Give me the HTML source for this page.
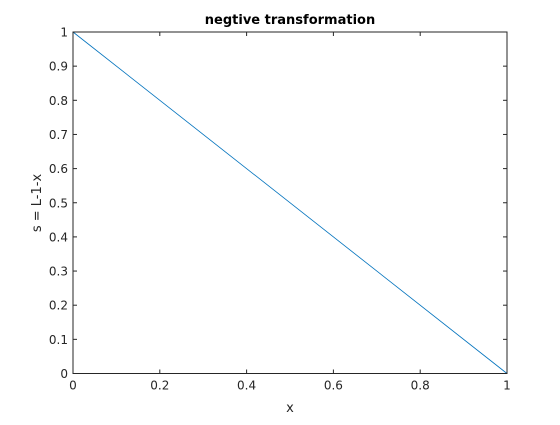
<!DOCTYPE html>
<html><head><meta charset="utf-8"><style>
body{margin:0;background:#fff}
text{font-family:"DejaVu Sans","Liberation Sans",sans-serif;fill:#262626}
</style></head><body>
<svg id="chart" width="560" height="420" xmlns="http://www.w3.org/2000/svg">
<rect width="560" height="420" fill="#fff"/>
<text x="290" y="24" text-anchor="middle" font-size="13" font-weight="bold" style="fill:#000">negtive transformation</text>
<text x="290" y="412" text-anchor="middle" font-size="13">x</text>
<text transform="translate(41,203) rotate(-90)" text-anchor="middle" font-size="13">s = L-1-x</text>
<g id="ticks"></g>
<polyline id="line" fill="none" stroke="#0072bd" stroke-width="0.8"/>
<rect x="73" y="32" width="434" height="341.5" fill="none" stroke="#262626" stroke-width="1"/>
</svg>
<script>
const xVals=[0,1];
const yVals=[1,0];
const xTicks=[0,0.2,0.4,0.6,0.8,1];
const yTicks=[0,0.1,0.2,0.3,0.4,0.5,0.6,0.7,0.8,0.9,1];
const L=73,R=507,T=32,B=373.5;
const sx=v=>L+v*(R-L), sy=v=>B-v*(B-T);
const NS="http://www.w3.org/2000/svg";
const g=document.getElementById('ticks');
function mk(tag,a){const e=document.createElementNS(NS,tag);for(const k in a)e.setAttribute(k,a[k]);g.appendChild(e);return e;}
xTicks.forEach(t=>{
 const x=sx(t);
 const l1=mk('line',{x1:x,x2:x,y1:B,y2:B-4,stroke:'#262626'});
 
 
 const l2=mk('line',{x1:x,x2:x,y1:T,y2:T+4,stroke:'#262626'});
 
 
 const tx=mk('text',{x:x,y:B+16,'text-anchor':'middle','font-size':'12'});
 tx.textContent=String(t);
 
 
});
yTicks.forEach(t=>{
 const y=sy(t);
 const l1=mk('line',{x1:L,x2:L+4,y1:y,y2:y,stroke:'#262626'});
 
 
 const l2=mk('line',{x1:R,x2:R-4,y1:y,y2:y,stroke:'#262626'});
 
 
 const tx=mk('text',{x:L-5,y:y+4.5,'text-anchor':'end','font-size':'12'});
 tx.textContent=String(t);
 
 
});
document.getElementById('line').setAttribute('points',xVals.map((x,i)=>sx(x)+','+sy(yVals[i])).join(' '));
</script>
</body></html>
